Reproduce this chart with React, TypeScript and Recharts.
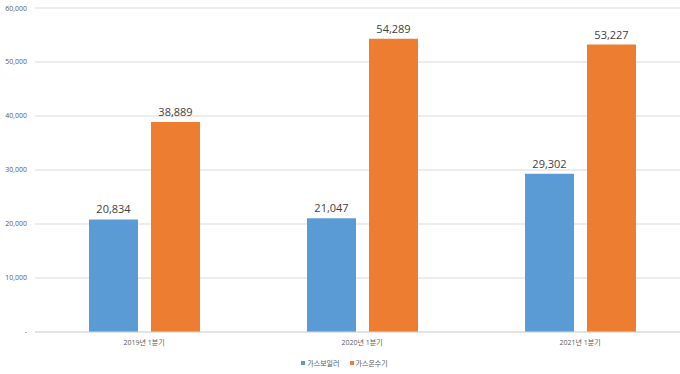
import React from "react";
import { BarChart, Bar, XAxis, YAxis, CartesianGrid, Legend, LabelList } from "recharts";

const categories = ["2019년 1분기", "2020년 1분기", "2021년 1분기"];
const boilerValues = [20834, 21047, 29302];
const heaterValues = [38889, 54289, 53227];
const yTicks = [0, 10000, 20000, 30000, 40000, 50000, 60000];
const seriesNames = ["가스보일러", "가스온수기"];
const seriesColors = ["#5B9BD5", "#ED7D31"];

const data = categories.map((c, i) => ({ name: c, boiler: boilerValues[i], heater: heaterValues[i] }));

const FONT = '"Open Sans", "Noto Sans CJK KR", sans-serif';

const fmt = (v: number) => (v === 0 ? "-" : v.toLocaleString("en-US"));

const LegendContent = () => (
  <div style={{ height: 22, display: "flex", justifyContent: "center", alignItems: "center", fontFamily: FONT, fontSize: 7, color: "#595959" }}>
    {seriesNames.map((n, i) => (
      <span key={n} style={{ display: "inline-flex", alignItems: "center", marginRight: i === 0 ? 10 : 0 }}>
        <span style={{ display: "inline-block", width: 4, height: 4, background: seriesColors[i], marginRight: 2 }} />
        {n}
      </span>
    ))}
  </div>
);

const YTick = (props: any) => {
  const { x, y, payload } = props;
  return (
    <text x={x} y={y} dy="0.35em" textAnchor="end" fontSize={7} fill="#595959" fontFamily={FONT}>
      {fmt(payload.value)}
    </text>
  );
};

export default function App() {
  return (
    <div style={{ position: "absolute", left: 0, top: 0, width: 680, height: 374, overflow: "hidden", background: "#fff" }}>
      <BarChart width={700} height={374} data={data} barGap={13} margin={{ top: 8, right: 11, bottom: 0, left: 0 }}>
        <CartesianGrid vertical={false} stroke="#d9d9d9" />
        <XAxis
          dataKey="name"
          height={20}
          tickLine={false}
          axisLine={{ stroke: "#d9d9d9" }}
          tick={{ fontSize: 7, fill: "#595959", fontFamily: FONT }}
        />
        <YAxis
          width={35}
          domain={[0, 60000]}
          ticks={yTicks}
          tickLine={false}
          axisLine={false}
          tick={<YTick />}
        />
        <Legend verticalAlign="bottom" content={<LegendContent />} />
        <Bar dataKey="boiler" name={seriesNames[0]} fill={seriesColors[0]} barSize={49} isAnimationActive={false}>
          <LabelList dataKey="boiler" position="top" offset={6} formatter={(v: any) => fmt(Number(v))} style={{ fontSize: 11, fill: "#404040", fontFamily: FONT }} />
        </Bar>
        <Bar dataKey="heater" name={seriesNames[1]} fill={seriesColors[1]} barSize={49} isAnimationActive={false}>
          <LabelList dataKey="heater" position="top" offset={6} formatter={(v: any) => fmt(Number(v))} style={{ fontSize: 11, fill: "#404040", fontFamily: FONT }} />
        </Bar>
      </BarChart>
    </div>
  );
}
